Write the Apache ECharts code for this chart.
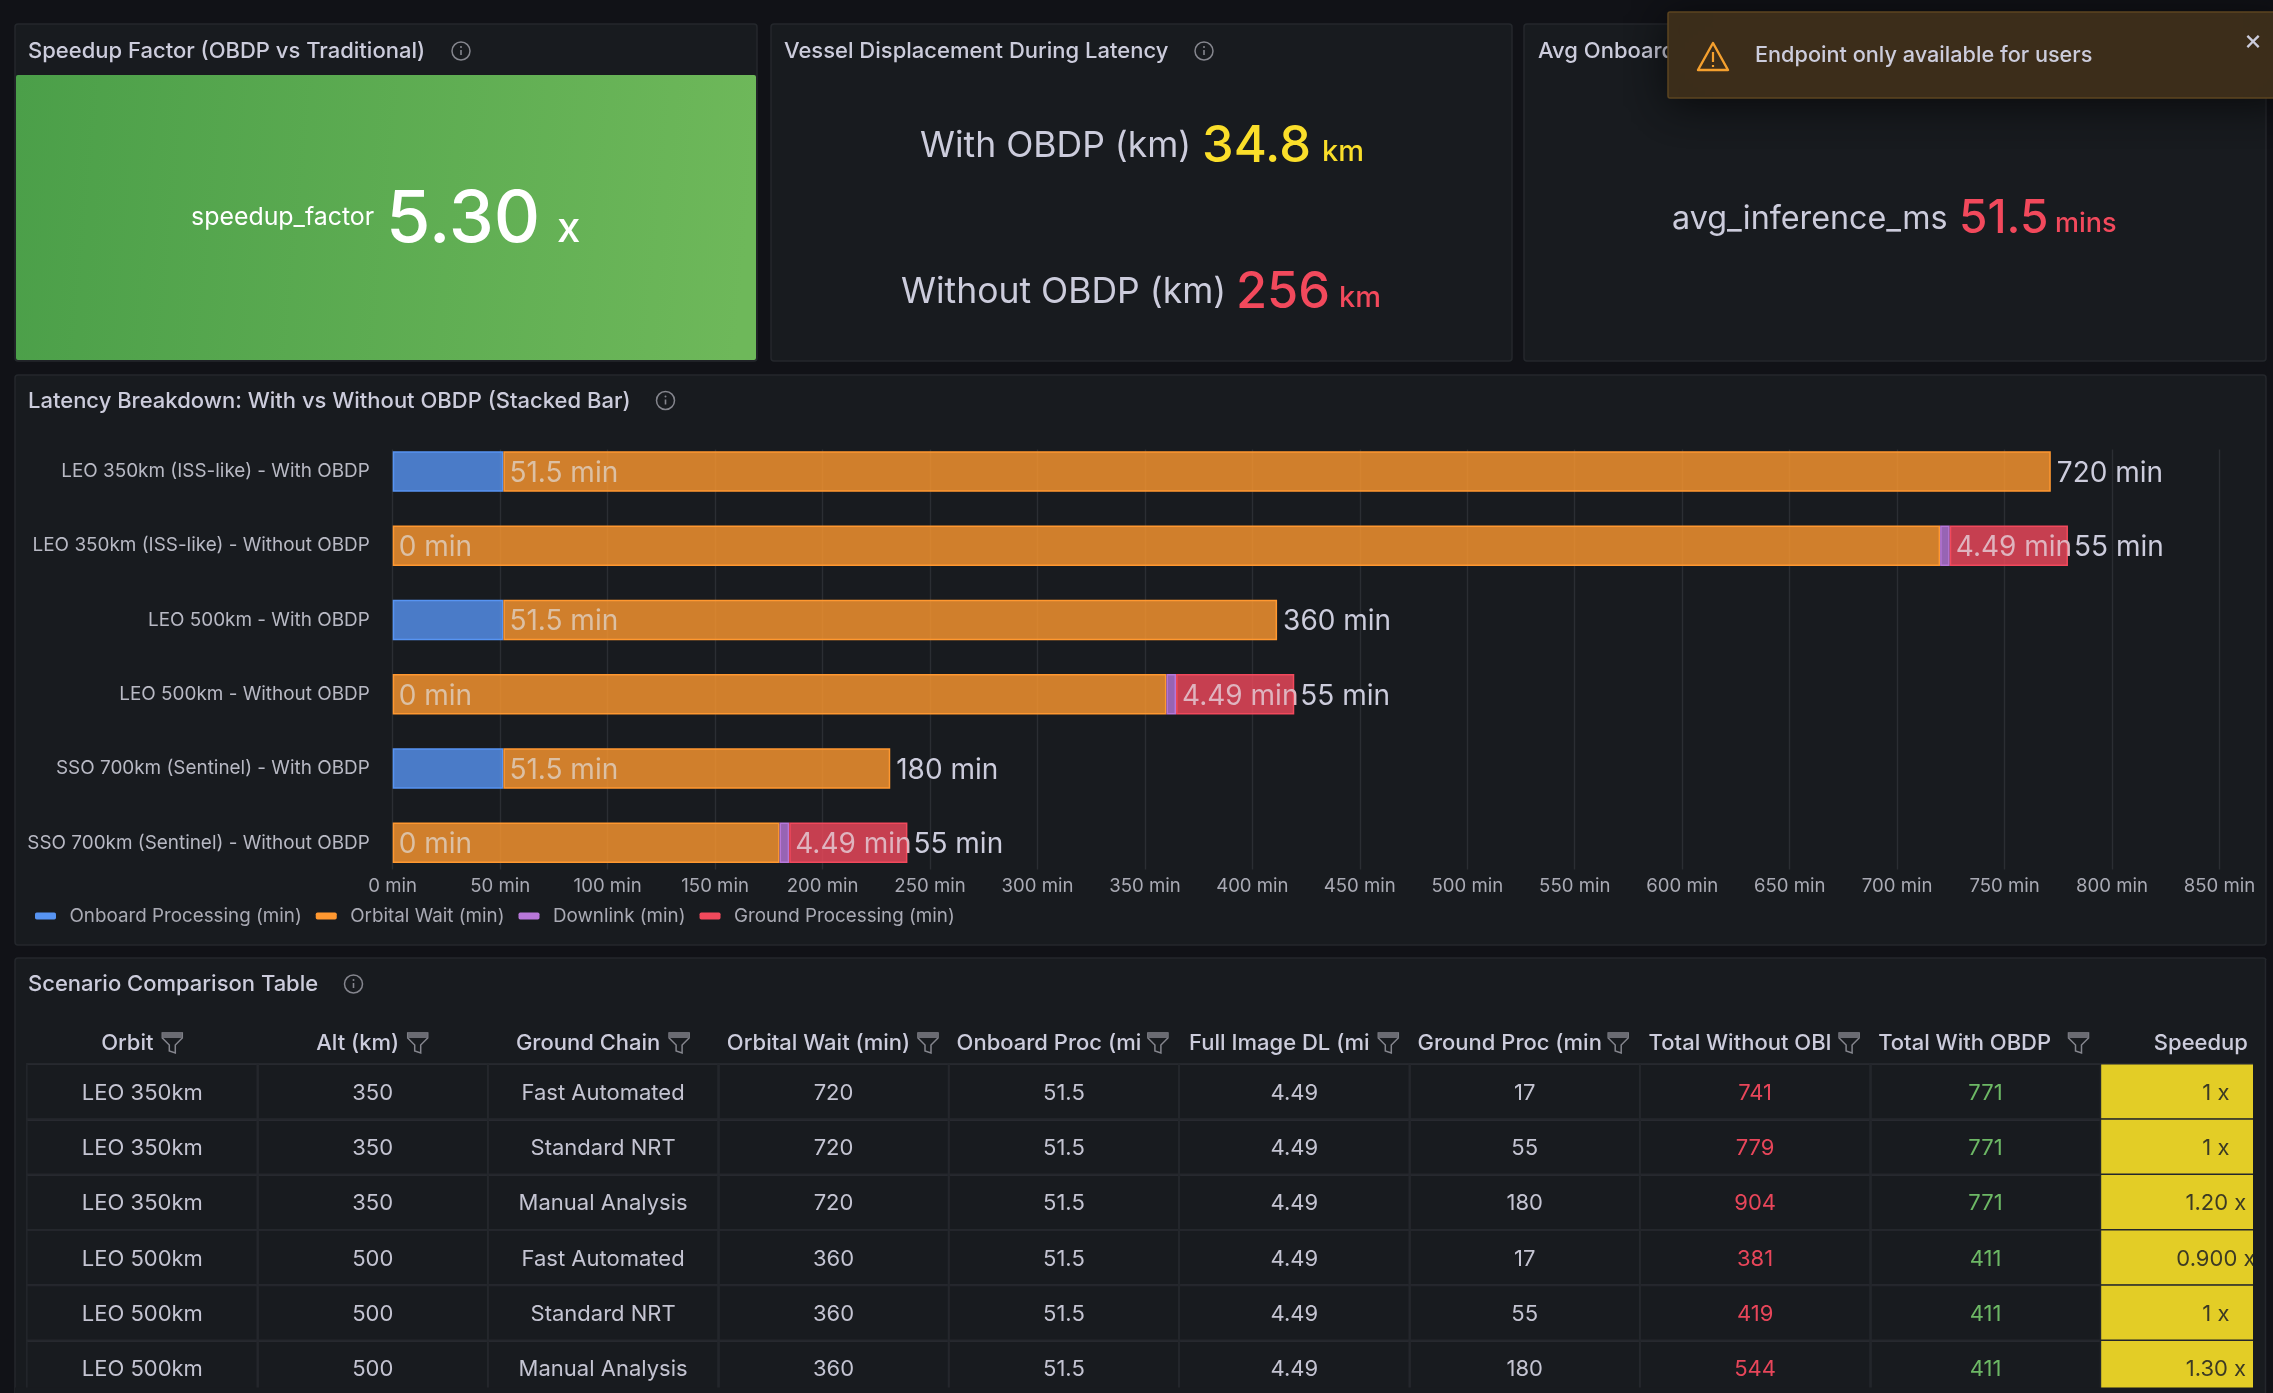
<!DOCTYPE html>
<html><head><meta charset="utf-8">
<style>html,body{margin:0;padding:0;background:#111217}#c{width:2273px;height:1393px}</style>
<script src="https://cdn.jsdelivr.net/npm/echarts@6/dist/echarts.min.js"></script>
</head><body><div id="c"></div>
<script>
// ---- latency chart data ----
const scenarios = ['LEO 350km (ISS-like) - With OBDP','LEO 350km (ISS-like) - Without OBDP','LEO 500km - With OBDP','LEO 500km - Without OBDP','SSO 700km (Sentinel) - With OBDP','SSO 700km (Sentinel) - Without OBDP'];
const onboardMin = [51.5,0,51.5,0,51.5,0];
const orbitalMin = [720,720,360,360,180,180];
const downlinkMin = [null,4.49,null,4.49,null,4.49];
const groundMin = [null,55,null,55,null,55];
// ---- table data ----
const headers = ['Orbit','Alt (km)','Ground Chain','Orbital Wait (min)','Onboard Proc (mi','Full Image DL (mi','Ground Proc (min','Total Without OBI','Total With OBDP  ','Speedup'];
const orbit = ['LEO 350km','LEO 350km','LEO 350km','LEO 500km','LEO 500km','LEO 500km'];
const altKm = ['350','350','350','500','500','500'];
const groundChain = ['Fast Automated','Standard NRT','Manual Analysis','Fast Automated','Standard NRT','Manual Analysis'];
const orbitalWait = ['720','720','720','360','360','360'];
const onboardProc = ['51.5','51.5','51.5','51.5','51.5','51.5'];
const fullImageDL = ['4.49','4.49','4.49','4.49','4.49','4.49'];
const groundProc = ['17','55','180','17','55','180'];
const totalWithout = ['741','779','904','381','419','544'];
const totalWith = ['771','771','771','411','411','411'];
const speedup = ['1 x','1 x','1.20 x','0.900 x','1 x','1.30 x'];
const columns = [orbit,altKm,groundChain,orbitalWait,onboardProc,fullImageDL,groundProc,totalWithout,totalWith,speedup];
const xTicks = {min:0,max:850,interval:50};

const FONT='Inter, "Noto Sans", sans-serif';
const PAGE='#111217',PANEL='#181b1f',EDGE='#24272c',TXT='#ccccdc',DIM='#a9aab4',ICON='#85868e';
const chart = echarts.init(document.getElementById('c'),null,{width:2273,height:1393});

function text(t,x,y,size,weight,fill,z,align){return {type:'text',z:z||5,silent:true,style:{text:t,x:x,y:y,fill:fill||TXT,font:(weight||400)+' '+size+'px '+FONT,align:align||'left',verticalAlign:'middle',textAlign:align||'left',textVerticalAlign:'middle'}};}
function box(x,y,w,h,fill,stroke,z,r,extra){return {type:'rect',z:z,silent:true,shape:{x:x,y:y,width:w,height:h,r:r||0},style:Object.assign({fill:fill,stroke:stroke||null,lineWidth:stroke?1.5:0},extra||{})};}
function seg(x1,y1,x2,y2,color,w,z){return {type:'line',z:z||5,silent:true,shape:{x1:x1,y1:y1,x2:x2,y2:y2},style:{stroke:color,lineWidth:w}};}
function info(x,y){return [
 {type:'circle',z:5,silent:true,shape:{cx:x,cy:y,r:9},style:{fill:'none',stroke:ICON,lineWidth:1.5}},
 seg(x,y-1,x,y+4,ICON,1.6),
 {type:'circle',z:5,silent:true,shape:{cx:x,cy:y-4,r:1},style:{fill:ICON}}];}
function funnel(x,y){return [
 {type:'polygon',z:5,silent:true,shape:{points:[[x-10,y-10],[x+10,y-10],[x+10,y-5],[x+3,y+2],[x+3,y+10],[x-3,y+8],[x-3,y+2],[x-10,y-5]]},style:{fill:'none',stroke:ICON,lineWidth:1.5}},
 {type:'rect',z:5,silent:true,shape:{x:x-10,y:y-10,width:20,height:5},style:{fill:'#6a6b72'}}];}

const g=[];
// panels
g.push(box(15,24,742,337,PANEL,EDGE,-10,3));
g.push(box(771,24,741,337,PANEL,EDGE,-10,3));
g.push(box(1524,24,742,337,PANEL,EDGE,-10,3));
g.push(box(15,375,2251,570,PANEL,EDGE,-10,3));
g.push(box(15,958,2251,460,PANEL,EDGE,-10,3));
// panel titles
g.push(text('Speedup Factor (OBDP vs Traditional)',28,51,22,500));
g.push(...info(461,51));
g.push(text('Vessel Displacement During Latency',784,51,22,500));
g.push(...info(1204,51));
g.push(text('Avg Onboard Inference Time',1538,51,22,500));
g.push(text('Latency Breakdown: With vs Without OBDP (Stacked Bar)',28,401,22,500));
g.push(...info(665.5,400.5));
g.push(text('Scenario Comparison Table',28,984,22,500));
g.push(...info(353.5,984));
// stat 1
g.push({type:'rect',z:1,silent:true,shape:{x:16,y:75,width:740,height:285,r:2},style:{fill:{type:'linear',x:0,y:0,x2:1,y2:0.25,colorStops:[{offset:0,color:'#4b9f49'},{offset:1,color:'#6eb85a'}]}}});
g.push(text('speedup_factor',191,218,24.9,400,'#ffffff'));
g.push(text('5.30',386,220,72,500,'#ffffff'));
g.push(text('x',557,229,42,500,'#ffffff'));
// stat 2
g.push(text('With OBDP (km)',920,146,35.5,400));
g.push(text('34.8',1202,147,50.5,500,'#fade2a'));
g.push(text('km',1322,152,29,500,'#fade2a'));
g.push(text('Without OBDP (km)',901,292,35.5,400));
g.push(text('256',1236,293,50.5,500,'#f2495c'));
g.push(text('km',1339,298,29,500,'#f2495c'));
// stat 3
g.push(text('avg_inference_ms',1672,219,32.3,400));
g.push(text('51.5',1959,219,46,500,'#f2495c'));
g.push(text('mins',2055,224,27,500,'#f2495c'));
// header filter icons (all but Speedup)
[30,45,76,94.5,94,94,93.5,94,93].forEach(function(off,i){g.push(...funnel(27.1+230.4*(i+0.5)+off,1043));});
// clip the table at panel edges
g.push(box(2253,1000,13,393,PANEL,null,50));
g.push(box(2266,960,7,433,PAGE,null,50));
g.push(box(15,1387.5,2251,6,PANEL,null,50));
g.push(seg(2265.5,960,2265.5,1393,EDGE,1.5,51));
// toast
g.push(box(1668,12,620,86,'#3d2e1b','#5c4420',60,2,{shadowBlur:40,shadowColor:'rgba(0,0,0,0.6)',shadowOffsetY:6}));
g.push({type:'polygon',z:61,silent:true,shape:{points:[[1713,43],[1728,70],[1698,70]]},style:{fill:'none',stroke:'#f5a02e',lineWidth:2.4,lineJoin:'round'}});
g.push(seg(1713,52,1713,62,'#f5a02e',2.2,61));
g.push(seg(1713,65,1713,67,'#f5a02e',2.2,61));
g.push(text('Endpoint only available for users',1755,55,21.7,500,TXT,61));
g.push(text('×',2253,41,28,400,TXT,61,'center'));

function rgba(hex,a){const n=parseInt(hex.slice(1),16);return 'rgba('+(n>>16)+','+((n>>8)&255)+','+(n&255)+','+a+')';}
function barSeries(name,color,values,labelColor,showLabel){
 return {name:name,type:'bar',stack:'t',xAxisIndex:1,yAxisIndex:1,barWidth:40.5,
  itemStyle:{color:rgba(color,0.8),borderColor:color,borderWidth:1.5},
  label:{show:true,position:'right',distance:6,offset:[0,2],color:labelColor,fontFamily:FONT,fontSize:28,formatter:function(p){return p.value+' min';}},
  data:values.map(function(v,i){const d={value:v};
    if(v===0)d.itemStyle={borderWidth:0};
    if(showLabel&&!showLabel(i))d.label={show:false};
    return d;})};
}
const series=[
 barSeries('Onboard Processing (min)','#5794f2',onboardMin,'#dcc0a4'),
 barSeries('Orbital Wait (min)','#ff9830',orbitalMin,TXT,function(i){return downlinkMin[i]==null;}),
 barSeries('Downlink (min)','#b877d9',downlinkMin,'#dfb4bf'),
 barSeries('Ground Processing (min)','#f2495c',groundMin,TXT)
];
const cells=[];
columns.forEach(function(col,c){col.forEach(function(v,r){
 const last=c===9;
 const color=last?'#3c3a24':c===7?'#e8465a':c===8?'#6db865':'#c4c4d2';
 cells.push({name:v,value:[c,r,1],itemStyle:{color:last?'#e3cd26':'rgba(0,0,0,0)'},label:{color:color}});
});});
series.push({type:'heatmap',xAxisIndex:2,yAxisIndex:2,data:cells,itemStyle:{borderColor:'#24272c',borderWidth:1.5},
 label:{show:true,formatter:'{b}',offset:[0,1.5],fontFamily:FONT,fontSize:22},emphasis:{disabled:true}});

const legendColors={'Onboard Processing (min)':'#5794f2','Orbital Wait (min)':'#ff9830','Downlink (min)':'#b877d9','Ground Processing (min)':'#f2495c'};
chart.setOption({
 animation:false,backgroundColor:PAGE,textStyle:{fontFamily:FONT},
 grid:[
  {left:392.7,top:449.5,width:1826.8,height:420,outerBoundsMode:'none'},
  {left:392.7,top:434.4,width:1826.8,height:445.6,outerBoundsMode:'none'},
  {left:27.1,top:1064,width:2304,height:331.8,outerBoundsMode:'none'}
 ],
 xAxis:[
  {gridIndex:0,type:'value',min:xTicks.min,max:xTicks.max,interval:xTicks.interval,axisLine:{show:false},axisTick:{show:false},
   axisLabel:{formatter:'{value} min',color:DIM,fontFamily:FONT,fontSize:18.6,margin:7.5,hideOverlap:false},splitLine:{show:true,lineStyle:{color:'#2b2e33',width:1.4}}},
  {gridIndex:1,type:'value',min:xTicks.min,max:xTicks.max,interval:xTicks.interval,show:false},
  {gridIndex:2,type:'category',position:'top',data:headers,axisLine:{show:false},axisTick:{show:false},
   axisLabel:{interval:0,color:TXT,fontFamily:FONT,fontWeight:500,fontSize:22,margin:10,padding:[0,30,0,0]},
   splitLine:{show:true,interval:0,showMinLine:false,lineStyle:{color:'#26292e',width:1.5}}}
 ],
 yAxis:[
  {gridIndex:0,type:'value',min:0,max:1,show:false},
  {gridIndex:1,type:'category',inverse:true,data:scenarios,axisLine:{show:false},axisTick:{show:false},splitLine:{show:false},
   axisLabel:{interval:0,color:'#b8b9c4',fontFamily:FONT,fontSize:18.9,margin:23,padding:[0,0,6,0]}},
  {gridIndex:2,type:'category',inverse:true,data:orbit.map(function(_,i){return String(i);}),axisLine:{show:false},axisTick:{show:false},axisLabel:{show:false},
   splitLine:{show:true,interval:0,lineStyle:{color:'#2a2d32',width:2}}}
 ],
 legend:{left:35,top:906.5,padding:0,icon:'roundRect',itemWidth:21,itemHeight:7,itemGap:14,selectedMode:false,
  textStyle:{color:DIM,fontFamily:FONT,fontSize:18.8,padding:[0,0,0,8.5]},
  data:Object.keys(legendColors).map(function(n){return {name:n,itemStyle:{color:legendColors[n],borderWidth:0}};})},
 graphic:{elements:g},
 series:series
});
</script></body></html>
